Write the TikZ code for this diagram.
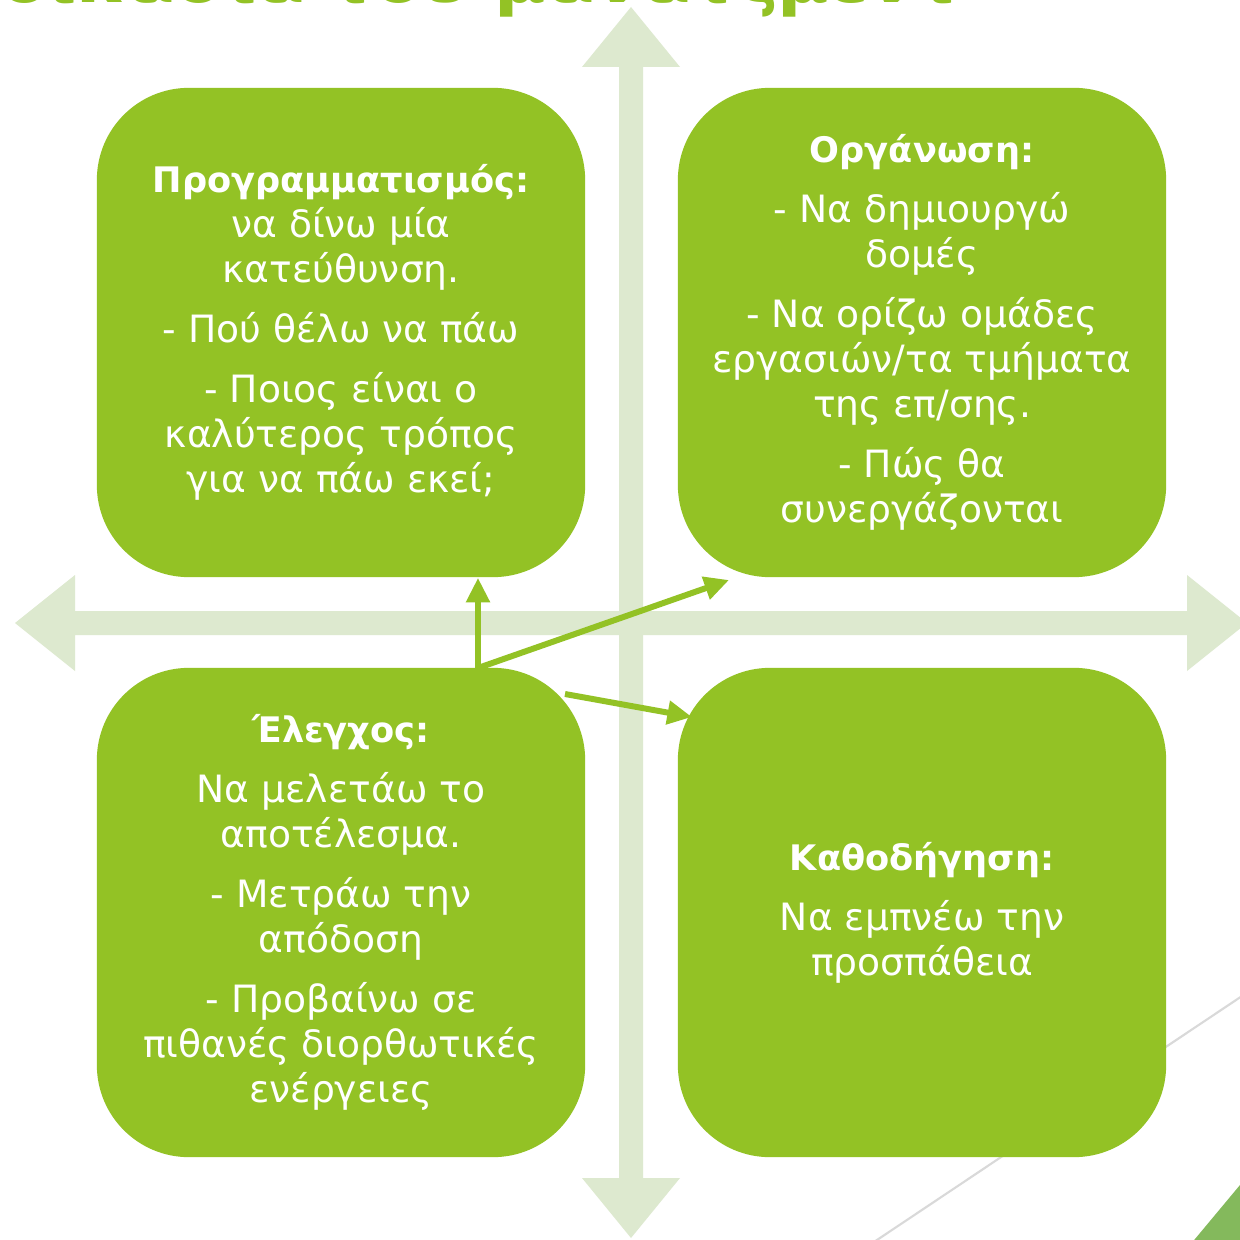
\documentclass[tikz,border=0pt]{standalone}
\usepackage{fontspec}
\setmainfont{DejaVu Sans}
\usetikzlibrary{arrows.meta}
\definecolor{boxgreen}{HTML}{93C225}
\definecolor{axis}{HTML}{DDE9CF}
\definecolor{tri}{HTML}{84B95C}
\definecolor{deco}{HTML}{D9D9D9}
\newcommand{\hd}[1]{{\fontsize{10}{12.8}\selectfont\bfseries #1}}
\begin{document}
\begin{tikzpicture}[x=0.01cm,y=-0.01cm,
  box/.style={fill=boxgreen, draw=none, rounded corners=0.92cm, minimum width=4.88cm, minimum height=4.89cm, align=center, text=white, font=\fontsize{10.7}{12.8}\selectfont, inner sep=0pt},
  link/.style={draw=boxgreen, line width=1.7pt, -{Triangle[width=6.5pt,length=7pt]}},
  axisarrow/.style={fill=axis, draw=none}]
\useasboundingbox (0,0) rectangle (1240,1240);
\clip (0,0) rectangle (1240,1240);
\fill[white] (0,0) rectangle (1240,1240);
% title (cut off at top, as in the reference)
\node[anchor=base east, text=boxgreen, font=\bfseries\fontsize{20}{24}\selectfont, inner sep=0pt] (title) at (962,3) {Η διαδικασία του μάνατζμεντ};
% decorations
\draw[deco, line width=0.6pt] (862,1250) -- (1260,984);
\fill[tri] (1185,1251) -- (1250,1173) -- (1250,1250) -- cycle;
% axes
\path[axisarrow] (631,7) -- (680,67) -- (643,67) -- (643,1178) -- (680,1178) -- (631,1238) -- (582,1178) -- (619,1178) -- (619,67) -- (582,67) -- cycle;
\path[axisarrow] (15,623) -- (75,575) -- (75,611) -- (1187,611) -- (1187,575) -- (1247,623) -- (1187,671) -- (1187,635) -- (75,635) -- (75,671) -- cycle;
% boxes
\node[box] (plan) at (341,332.5) {\hd{Προγραμματισμός:}\\ να δίνω μία\\ κατεύθυνση.\\[4.3pt] - Πού θέλω να πάω\\[4.3pt] - Ποιος είναι ο\\ καλύτερος τρόπος\\ για να πάω εκεί;};
\node[box] (org) at (922,332.5) {\hd{Οργάνωση:}\\[4.3pt] - Να δημιουργώ\\ δομές\\[4.3pt] - Να ορίζω ομάδες\\ εργασιών/τα τμήματα\\ της επ/σης.\\[4.3pt] - Πώς θα\\ συνεργάζονται};
\node[box] (ctl) at (341,912.5) {\hd{Έλεγχος:}\\[4.3pt] Να μελετάω το\\ αποτέλεσμα.\\[4.3pt] - Μετράω την\\ απόδοση\\[4.3pt] - Προβαίνω σε\\ πιθανές διορθωτικές\\ ενέργειες};
\node[box] (lead) at (922,912.5) {\hd{Καθοδήγηση:}\\[4.3pt] Να εμπνέω την\\ προσπάθεια};
% connectors
\coordinate (s1) at (478,668);
\coordinate (t2) at (729,580);
\coordinate (s3) at (565,694);
\coordinate (t3) at (692,717);
\draw[link] (s1) -- (s1 |- plan.south);
\draw[link] (s1) -- (t2);
\draw[link] (s3) -- (t3);
\end{tikzpicture}
\end{document}
